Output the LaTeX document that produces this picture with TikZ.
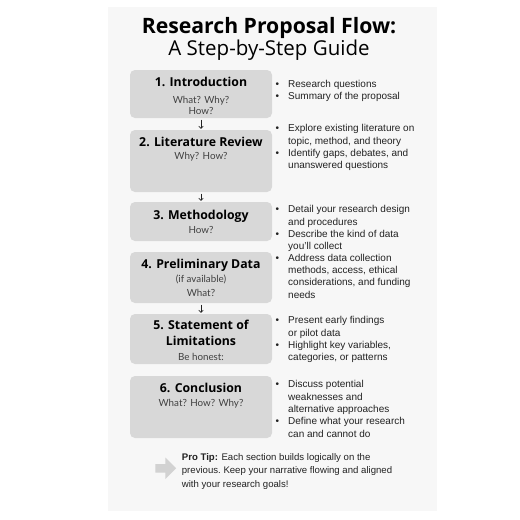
\documentclass[tikz,border=0pt]{standalone}
\usepackage{fontspec}
\setmainfont{Liberation Sans}
\newfontfamily\headfont{Open Sans}
\newfontfamily\subfont{Lato}
\usetikzlibrary{positioning,arrows.meta,shapes.arrows}

\definecolor{panelgray}{HTML}{F7F7F7}
\definecolor{boxgray}{HTML}{D8D8D8}
\definecolor{tipgray}{HTML}{D2D2D2}
\definecolor{inkgray}{HTML}{222222}
\definecolor{subgray}{HTML}{404040}

\newcommand{\bitem}{\makebox[12.5pt][l]{\textbullet}}
\newcommand{\bcont}{\hspace*{12.5pt}}

\tikzset{
  stepbox/.style={fill=boxgray,rounded corners=5pt,minimum width=142pt,inner sep=0pt},
  steptitle/.style={anchor=north,inner sep=0pt,align=center,text=black,font=\headfont\bfseries\fontsize{12.3}{16}\selectfont},
  stepsub/.style={anchor=north,inner sep=0pt,align=center,text=subgray,font=\subfont\fontsize{9.8}{11.4}\selectfont},
  notes/.style={anchor=north west,inner sep=0pt,align=left,text=inkgray,font=\fontsize{10}{12.3}\selectfont},
  flow/.style={draw=inkgray,line width=0.6pt,shorten <=1.5pt,shorten >=1pt,-{Straight Barb[length=2.2pt,width=4.5pt]}}
}

\begin{document}
\begin{tikzpicture}[x=1pt,y=-1pt]
  \useasboundingbox (0,0) rectangle (520,520);
  \fill[white] (0,0) rectangle (520,520);
  \fill[panelgray] (108,7) rectangle (437,511);

  % heading
  \node[anchor=base,inner sep=0pt,font=\headfont\bfseries\fontsize{21.2}{24}\selectfont] (title) at (269,33) {Research Proposal Flow:};
  \node[anchor=base,inner sep=0pt,font=\headfont\fontsize{20.5}{24}\selectfont] (subtitle) at (269,55.7) {A Step-by-Step Guide};

  % steps
  \node[stepbox,minimum height=48pt] (b1) at (201,94) {};
  \node[stepbox,minimum height=62pt] (b2) at (201,161) {};
  \node[stepbox,minimum height=39pt] (b3) at (201,221.5) {};
  \node[stepbox,minimum height=51pt] (b4) at (201,277.5) {};
  \node[stepbox,minimum height=50pt] (b5) at (201,339) {};
  \node[stepbox,minimum height=62pt] (b6) at (201,407) {};

  \node[steptitle] (t1) at (201,77.3) {1. Introduction};
  \node[stepsub] (s1) at (201,95.7) {What? Why?\\How?};
  \node[steptitle] (t2) at (201,136.7) {2. Literature Review};
  \node[stepsub] (s2) at (201,152.3) {Why? How?};
  \node[steptitle] (t3) at (201,210) {3. Methodology};
  \node[stepsub] (s3) at (201,226) {How?};
  \node[steptitle] (t4) at (201,259.3) {4. Preliminary Data};
  \node[stepsub] (s4) at (201,274.5) {(if available)\\[3pt]What?};
  \node[steptitle] (t5) at (201,320) {5. Statement of\\Limitations};
  \node[stepsub] (s5) at (201,353.3) {Be honest:};
  \node[steptitle] (t6) at (201,382.7) {6. Conclusion};
  \node[stepsub] (s6) at (201,399) {What? How? Why?};

  \draw[flow] (b1) -- (b2);
  \draw[flow] (b2) -- (b3);
  \draw[flow] (b4) -- (b5);

  % notes beside the steps
  \node[notes] (n1) at (275.5,80) {\bitem Research questions\\\bitem Summary of the proposal};
  \node[notes] (n2) at (275.5,124.3) {\bitem Explore existing literature on\\\bcont topic, method, and theory\\\bitem Identify gaps, debates, and\\\bcont unanswered questions};
  \node[notes] (n3) at (275.5,205.4) {\bitem Detail your research design\\\bcont and procedures\\\bitem Describe the kind of data\\\bcont you'll collect};
  \node[notes] (n4) at (275.5,253.7) {\bitem Address data collection\\\bcont methods, access, ethical\\\bcont considerations, and funding\\\bcont needs};
  \node[notes] (n5) at (275.5,316.4) {\bitem Present early findings\\\bcont or pilot data\\\bitem Highlight key variables,\\\bcont categories, or patterns};
  \node[notes] (n6) at (275.5,380.4) {\bitem Discuss potential\\\bcont weaknesses and\\\bcont alternative approaches\\\bitem Define what your research\\\bcont can and cannot do};

  % tip
  \node[single arrow,fill=tipgray,inner xsep=0pt,inner ysep=4pt,minimum height=20.7pt,single arrow head extend=6.5pt] (tiparrow) at (163.7,468.3) {};
  \node[notes,font=\fontsize{9.6}{13.5}\selectfont] (tip) at (181.7,453.3) {\textbf{Pro Tip:} Each section builds logically on the\\previous.\ Keep your narrative flowing and aligned\\with your research goals!};
\end{tikzpicture}
\end{document}
